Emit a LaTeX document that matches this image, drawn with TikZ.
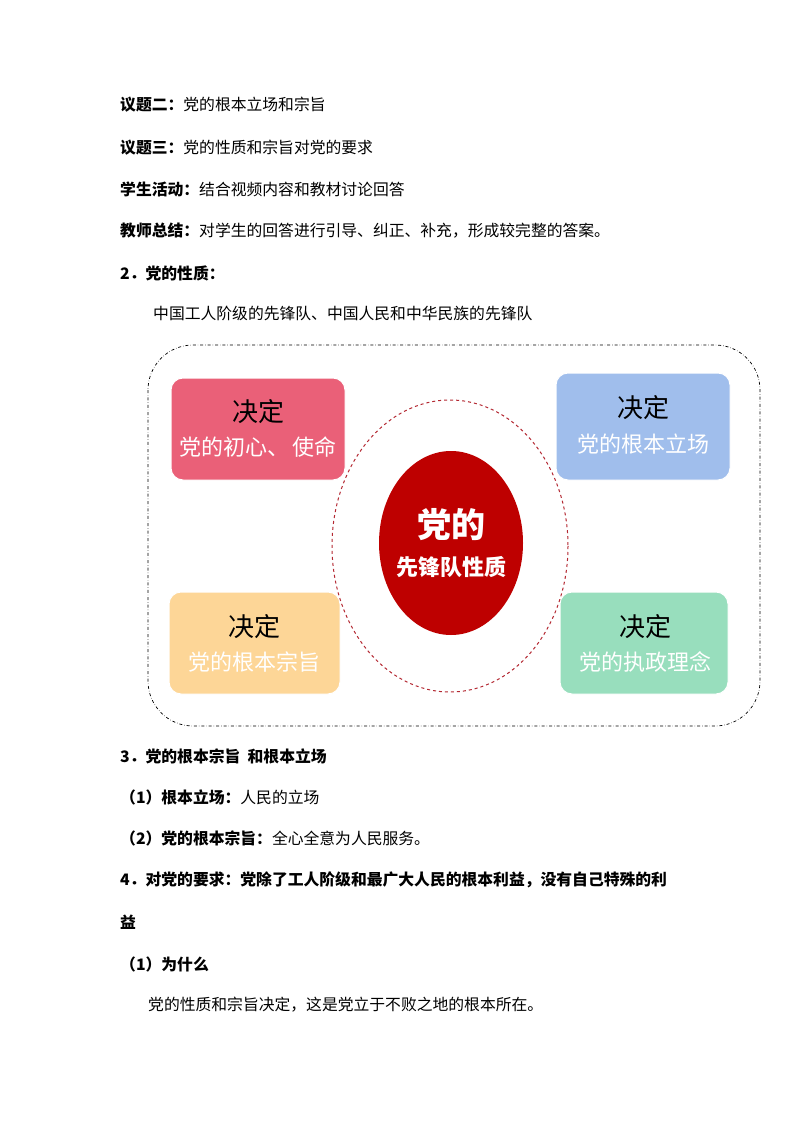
\documentclass[tikz,border=0pt]{standalone}
\usepackage{fontspec}
\setmainfont{Noto Sans CJK SC}
\begin{document}
\begin{tikzpicture}[x=1pt,y=-1pt,
  body/.style={anchor=west,inner sep=0pt,font=\fontsize{15.8}{18}\selectfont},
  card/.style={rounded corners=12pt,draw=white,line width=1pt},
  top/.style={font=\fontsize{26}{30}\selectfont,text=black},
  sub/.style={font=\fontsize{22}{26}\selectfont,text=white}]
\useasboundingbox[fill=white] (0,0) rectangle (794,1123);
\node[body] (l1) at (120,105) {\textbf{议题二：}党的根本立场和宗旨};
\node[body] (l2) at (120,148) {\textbf{议题三：}党的性质和宗旨对党的要求};
\node[body] (l3) at (120,189) {\textbf{学生活动：}结合视频内容和教材讨论回答};
\node[body] (l4) at (120,231) {\textbf{教师总结：}对学生的回答进行引导、纠正、补充，形成较完整的答案。};
\node[body] (l5) at (120,273) {\textbf{2．党的性质：}};
\node[body] (l6) at (153,313) {中国工人阶级的先锋队、中国人民和中华民族的先锋队};
% diagram
\draw[dash dot,line width=0.7pt,rounded corners=45pt] (148,345) rectangle (760,726);
\fill[card,fill={rgb,255:red,234;green,96;blue,120}] (171,378) rectangle (345,480);
\fill[card,fill={rgb,255:red,160;green,190;blue,236}] (556,373) rectangle (730,480);
\fill[card,fill={rgb,255:red,253;green,214;blue,151}] (169,592) rectangle (340,694);
\fill[card,fill={rgb,255:red,152;green,222;blue,189}] (560,592) rectangle (728,694);
\node[top] (a1) at (258,412) {决定};
\node[sub] (b1) at (258,447) {党的初心、\,使命};
\node[top] (a2) at (643,408) {决定};
\node[sub] (b2) at (643,444) {党的根本立场};
\node[top] (a3) at (254,627) {决定};
\node[sub] (b3) at (254,662) {党的根本宗旨};
\node[top] (a4) at (645,627) {决定};
\node[sub] (b4) at (645,662) {党的执政理念};
\draw[dashed,line width=1pt,draw={rgb,255:red,180;green,40;blue,50}] (450,546) ellipse[x radius=118,y radius=146];
\fill[fill={rgb,255:red,190;green,0;blue,0}] (451,543) ellipse[x radius=72,y radius=92];
\node[text=white,font=\fontsize{34}{38}\selectfont\bfseries] (c1) at (451,525) {党的};
\node[text=white,font=\fontsize{22}{26}\selectfont\bfseries] (c2) at (451,567) {先锋队性质};
% bottom text
\node[body] (l7) at (120,756) {\textbf{3．党的根本宗旨\ \ 和根本立场}};
\node[body] (l8) at (120,797) {\textbf{（1）根本立场：}人民的立场};
\node[body] (l9) at (120,838) {\textbf{（2）党的根本宗旨：}全心全意为人民服务。};
\node[body] (l10) at (120,880) {\textbf{4．对党的要求：党除了工人阶级和最广大人民的根本利益，没有自己特殊的利}};
\node[body] (l11) at (120,922) {\textbf{益}};
\node[body] (l12) at (120,964) {\textbf{（1）为什么}};
\node[body] (l13) at (148,1005) {党的性质和宗旨决定，这是党立于不败之地的根本所在。};
\end{tikzpicture}
\end{document}
